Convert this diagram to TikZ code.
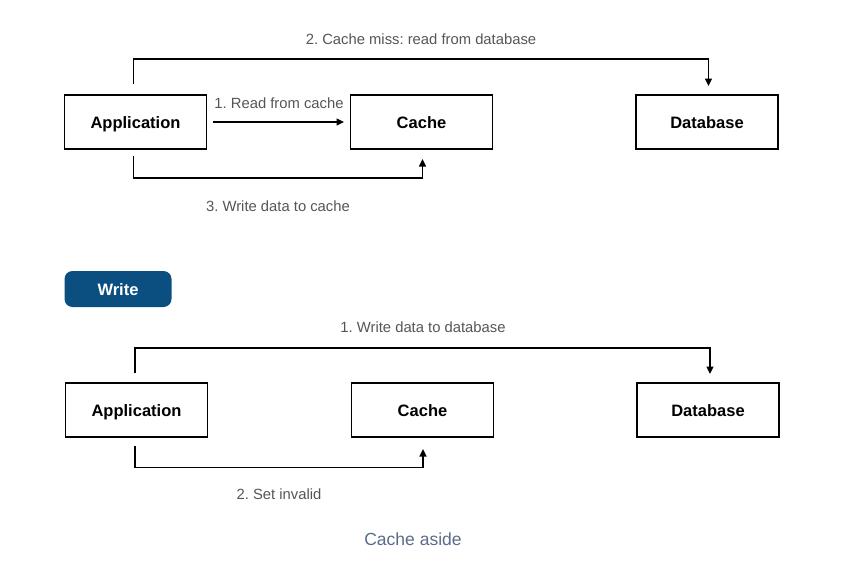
\documentclass[tikz,border=0pt]{standalone}
\usepackage{fontspec}
\setmainfont{Liberation Sans}
\usetikzlibrary{arrows.meta}
\frenchspacing
\definecolor{badge}{HTML}{0B4F80}
\definecolor{lbl}{HTML}{555555}
\definecolor{cap}{HTML}{5A6B88}
\tikzset{
  box/.style={draw=black,line width=1.4pt,minimum width=142pt,minimum height=54pt,inner sep=0pt,text height=12pt,text depth=0pt,font=\fontsize{16.5}{18}\selectfont\bfseries},
  conn/.style={draw=black,line width=1.3pt,-{Triangle[length=7.5pt,width=7pt]}},
  lab/.style={text=lbl,font=\fontsize{14.8}{16}\selectfont,inner sep=0pt},
  badgebox/.style={fill=badge,rounded corners=8pt,minimum width=107pt,minimum height=36pt,inner sep=0pt,text height=12pt,text depth=0pt,text=white,font=\fontsize{16.5}{18}\selectfont\bfseries},
  caption/.style={text=cap,font=\fontsize{17.5}{20}\selectfont,inner sep=0pt}
}
\begin{document}
\begin{tikzpicture}[x=1pt,y=-1pt]
\useasboundingbox (0,0) rectangle (855,570);
% Read section
\node[box] (app1) at (135.5,122) {Application};
\node[box] (cache1) at (421.5,122) {Cache};
\node[box] (db1) at (707,122) {Database};
\coordinate (a1top) at (133.5,84);
\coordinate (a1bot) at (133.5,156);
\coordinate (db1top) at (708.5,86);
\coordinate (c1bot) at (422.5,159);
\draw[conn] (a1top) -- (133.5,59) -- (708.5,59) -- (db1top);
\coordinate (r1s) at (213,122);
\coordinate (r1e) at (344,122);
\draw[conn] (r1s) -- (r1e);
\draw[conn] (a1bot) -- (133.5,178) -- (422.5,178) -- (c1bot);
\node[lab] (l2) at (421,39) {2. Cache miss: read from database};
\node[lab] (l1) at (279,103) {1. Read from cache};
\node[lab] (l3) at (278,206) {3. Write data to cache};
% Write section
\node[badgebox] (write) at (118,289) {Write};
\node[box] (app2) at (136.5,410) {Application};
\node[box] (cache2) at (422.5,410) {Cache};
\node[box] (db2) at (708,410) {Database};
\coordinate (a2top) at (135,373);
\coordinate (a2bot) at (135,446);
\coordinate (db2top) at (710,374);
\coordinate (c2bot) at (423,449);
\draw[conn] (a2top) -- (135,348) -- (710,348) -- (db2top);
\draw[conn] (a2bot) -- (135,467.5) -- (423,467.5) -- (c2bot);
\node[lab] (w1) at (423,327) {1. Write data to database};
\node[lab] (w2) at (279,494) {2. Set invalid};
\node[caption] (capt) at (413,539) {Cache aside};
\end{tikzpicture}
\end{document}
